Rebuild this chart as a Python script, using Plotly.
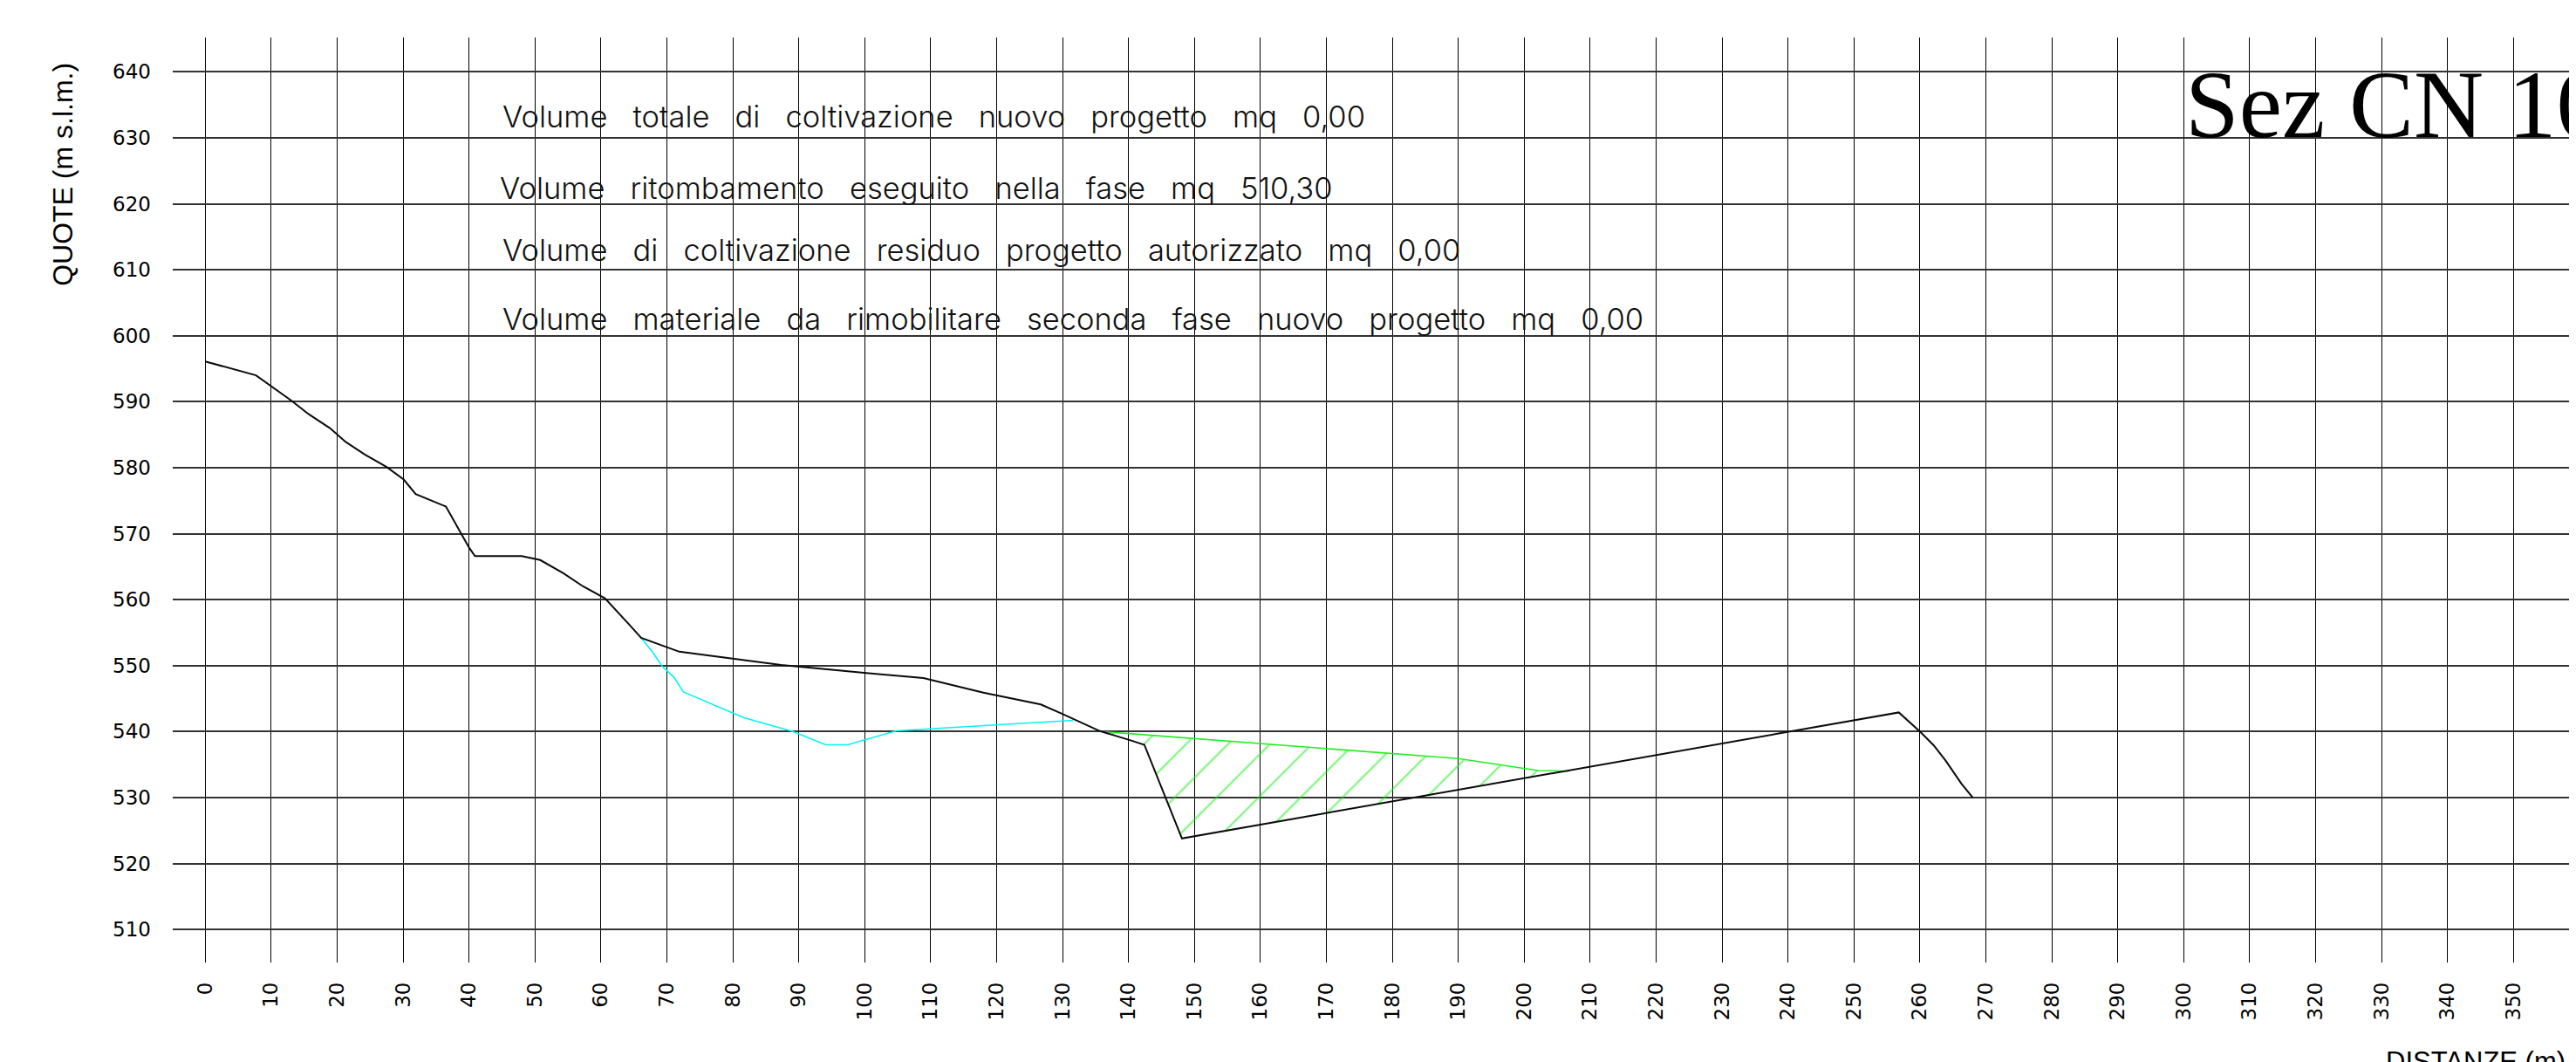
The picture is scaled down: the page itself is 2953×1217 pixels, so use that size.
import plotly.graph_objects as go

# ---------------- data ----------------
ground_x = [0, 7.7, 13.0, 15.7, 18.9, 21.3, 24.2, 27.5, 30.1, 31.9, 36.5, 38.7, 40.0, 40.9,
            48.0, 50.8, 54.3, 57.3, 60.6, 64.4, 66.1, 71.9, 79.6, 87.3, 99.9, 108.9, 118.0,
            126.7, 129.9, 135.6, 140.2, 142.4, 148.1, 256.8, 260.1, 262.1, 263.9, 266.3, 268.0]
ground_y = [596.1, 594.0, 590.2, 588.1, 586.0, 583.9, 582.0, 580.1, 578.2, 576.0, 574.1, 570.2,
            567.9, 566.6, 566.6, 566.0, 564.0, 562.0, 560.2, 556.1, 554.2, 552.1, 551.1, 550.1,
            548.9, 548.1, 545.9, 544.1, 542.7, 540.1, 538.7, 538.0, 523.8, 542.9, 539.9, 537.9,
            535.6, 532.1, 530.0]

orig_x = [66.1, 67.7, 69.3, 71.1, 72.5, 81.7, 89.1, 94.1, 97.4, 104.8, 119.8, 131.6]
orig_y = [554.2, 552.2, 549.9, 548.2, 546.0, 542.1, 540.0, 538.0, 538.0, 540.1, 541.0, 541.7]

fill_x = [135.6, 140.0, 190.0, 202.1, 206.8]
fill_y = [540.0, 539.7, 535.9, 534.1, 534.0]

y_ticks = list(range(510, 641, 10))
x_ticks = list(range(0, 361, 10))

volume_texts = [
    "Volume totale di coltivazione nuovo progetto mq 0,00",
    "Volume ritombamento eseguito nella fase mq 510,30",
    "Volume di coltivazione residuo progetto autorizzato mq 0,00",
    "Volume materiale da rimobilitare seconda fase nuovo progetto mq 0,00",
]
volume_text_x = [44.8, 44.4, 44.8, 44.8]
volume_text_y = [633.2, 622.4, 613.05, 602.55]

section_title = "Sez CN 10"
y_title = "QUOTE (m s.l.m.)"
x_title = "DISTANZE (m)"

# ---------------- figure ----------------
fig = go.Figure()

# hatched fill polygon: green top surface + ground between its ends (reversed)
x0, x1 = fill_x[0], fill_x[-1]
between = [(gx, gy) for gx, gy in zip(ground_x, ground_y) if x0 < gx < x1]
between.reverse()
poly_x = fill_x + [p[0] for p in between] + [fill_x[0]]
poly_y = fill_y + [p[1] for p in between] + [fill_y[0]]

fig.add_trace(go.Scatter(
    x=poly_x, y=poly_y, mode="lines", fill="toself",
    line=dict(width=0, color="rgba(0,0,0,0)"),
    fillcolor="rgba(0,0,0,0)",
    fillpattern=dict(shape="/", fgcolor="#11ee11", bgcolor="rgba(0,0,0,0)",
                     size=34, solidity=0.07, fillmode="overlay"),
    hoverinfo="skip", showlegend=False))

fig.add_trace(go.Scatter(x=fill_x, y=fill_y, mode="lines",
                         line=dict(color="#22ee22", width=1.6), showlegend=False))

fig.add_trace(go.Scatter(x=orig_x, y=orig_y, mode="lines",
                         line=dict(color="#00f4f4", width=1.6), showlegend=False))

fig.add_trace(go.Scatter(x=ground_x, y=ground_y, mode="lines",
                         line=dict(color="#0a0a0a", width=2), showlegend=False))

gap = "\u00a0\u00a0\u00a0"
annotations = []
for t, tx, ty in zip(volume_texts, volume_text_x, volume_text_y):
    annotations.append(dict(
        x=tx, y=ty, xref="x", yref="y", xanchor="left", yanchor="middle",
        text=t.replace(" ", gap), showarrow=False,
        font=dict(family="Inter", size=34.5, color="#111111", weight=300)))

annotations.append(dict(
    x=300.0, y=635.05, xref="x", yref="y", xanchor="left", yanchor="middle",
    text=section_title, showarrow=False,
    font=dict(family="Liberation Serif", size=111, color="black")))

annotations.append(dict(
    x=-0.0455, y=0.852, xref="paper", yref="paper", xanchor="center", yanchor="middle",
    text=y_title, textangle=-90, showarrow=False,
    font=dict(family="Liberation Sans", size=32, color="black")))

annotations.append(dict(
    x=0.9147, y=-0.0887, xref="paper", yref="paper", xanchor="left", yanchor="top",
    text=x_title, showarrow=False,
    font=dict(family="Liberation Sans", size=31, color="black")))

fig.update_layout(
    width=2961, height=1217,
    margin=dict(l=190, r=0, t=35, b=122, pad=0),
    paper_bgcolor="white", plot_bgcolor="white",
    showlegend=False,
    annotations=annotations,
    xaxis=dict(range=[-4.93, 361.6], tickvals=x_ticks, ticktext=[str(v) for v in x_ticks],
               tickangle=-90, showgrid=True, gridcolor="#000000", gridwidth=1,
               zeroline=False, showline=False, ticks="",
               tickfont=dict(family="DejaVu Sans", size=23, color="black"),
               ticklabelstandoff=17, fixedrange=True),
    yaxis=dict(range=[504.99, 645.2], tickvals=y_ticks, ticktext=[str(v) for v in y_ticks],
               showgrid=True, gridcolor="#333333", gridwidth=2,
               zeroline=False, showline=False, ticks="",
               tickfont=dict(family="DejaVu Sans", size=23, color="black"),
               ticklabelstandoff=24, fixedrange=True),
)

fig.write_html("out.html")
